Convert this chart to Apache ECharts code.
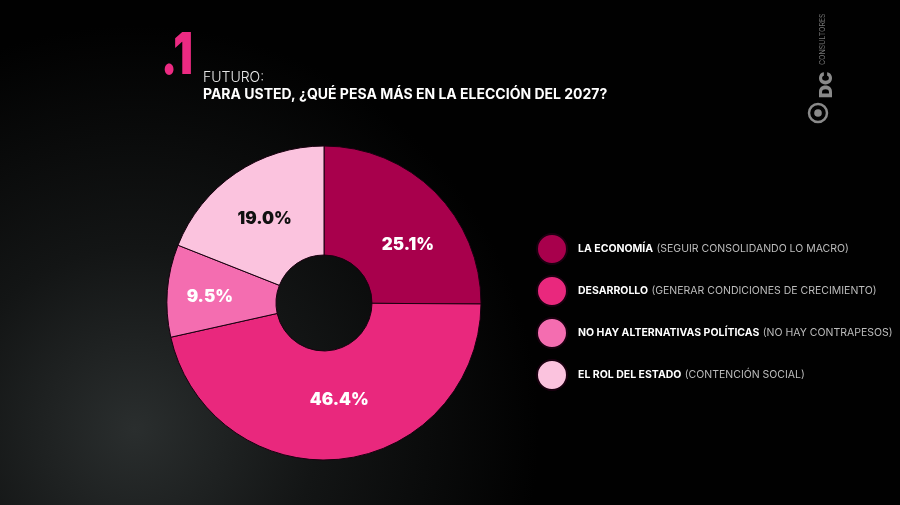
<!DOCTYPE html>
<html>
<head>
<meta charset="utf-8">
<script src="https://cdn.jsdelivr.net/npm/echarts@6/dist/echarts.min.js"></script>
<style>
  html, body { margin: 0; padding: 0; background: #000; }
  #chart { width: 900px; height: 505px; }
</style>
</head>
<body>
<div id="chart"></div>
<script>
// datos
const categorias = ['LA ECONOMÍA', 'DESARROLLO', 'NO HAY ALTERNATIVAS POLÍTICAS', 'EL ROL DEL ESTADO'];
const detalles = ['(SEGUIR CONSOLIDANDO LO MACRO)', '(GENERAR CONDICIONES DE CRECIMIENTO)', '(NO HAY CONTRAPESOS)', '(CONTENCIÓN SOCIAL)'];
const valores = [25.1, 46.4, 9.5, 19.0];
const colores = ['#a8004c', '#e9287d', '#f46db0', '#fbc3de'];
const coloresEtiqueta = ['#ffffff', '#ffffff', '#ffffff', '#111111'];
const desplazamientos = [[9, 16], [4, -8], [-9, 2], [0, 3]];

const chart = echarts.init(document.getElementById('chart'), null, { renderer: 'canvas', width: 900, height: 505 });

const font = 'Inter, "Noto Sans", sans-serif';

const datos = categorias.map((c, i) => ({
    name: c,
    value: valores[i],
    itemStyle: { color: colores[i] },
    label: { color: coloresEtiqueta[i], offset: desplazamientos[i] }
}));

const option = {
    backgroundColor: {
        type: 'radial', x: 0.15, y: 0.85, r: 0.8,
        colorStops: [
            { offset: 0, color: '#2a2e2e' },
            { offset: 0.45, color: '#131515' },
            { offset: 1, color: '#010101' }
        ]
    },
    animation: false,
    graphic: [
        {
            type: 'text', x: 161, y: 28, scaleX: 0.75,
            style: { text: '.1', fill: '#ec2a82', font: '900 58px ' + font }
        },
        {
            type: 'text', left: 203, top: 71,
            style: { text: 'FUTURO:', fill: '#e8e8e8', font: '300 14px ' + font }
        },
        {
            type: 'text', left: 203, top: 88,
            style: { text: 'PARA USTED, ¿QUÉ PESA MÁS EN LA ELECCIÓN DEL 2027?', fill: '#ffffff', font: 'bold 14px ' + font }
        },
        {
            type: 'circle', shape: { cx: 818, cy: 113, r: 9 },
            style: { fill: 'none', stroke: '#8a8a8a', lineWidth: 2.5 }
        },
        {
            type: 'circle', shape: { cx: 818, cy: 113, r: 3.8 },
            style: { fill: '#8a8a8a' }
        },
        {
            type: 'text', x: 827, y: 98, rotation: Math.PI / 2,
            style: { text: 'DC', fill: '#8a8a8a', font: '900 18px ' + font, align: 'left', verticalAlign: 'middle' }
        },
        {
            type: 'text', x: 823, y: 65, rotation: Math.PI / 2,
            style: { text: 'CONSULTORES', fill: '#777777', font: '7px ' + font, align: 'left', verticalAlign: 'middle' }
        }
    ],
    legend: {
        orient: 'vertical',
        left: 531,
        top: 228,
        icon: 'circle',
        itemWidth: 30,
        itemHeight: 30,
        itemGap: 10,
        selectedMode: false,
        data: categorias,
        formatter: function (name) {
            const i = categorias.indexOf(name);
            return '{b|' + name + '} {n|' + detalles[i] + '}';
        },
        textStyle: {
            padding: [0, 0, 0, 6],
            rich: {
                b: { color: '#ffffff', fontWeight: 'bold', fontSize: 10.5, fontFamily: font },
                n: { color: '#bdbdbd', fontSize: 10.5, fontFamily: font }
            }
        }
    },
    series: [{
        type: 'pie',
        center: [324, 303],
        radius: [48, 157],
        startAngle: 90,
        clockwise: true,
        avoidLabelOverlap: false,
        itemStyle: { borderColor: '#1a0010', borderWidth: 1 },
        label: {
            show: true,
            position: 'inside',
            formatter: function (p) { return p.value.toFixed(1) + '%'; },
            fontSize: 17,
            fontWeight: 900,
            fontFamily: font
        },
        labelLine: { show: false },
        data: datos
    }]
};

chart.setOption(option);
</script>
</body>
</html>
